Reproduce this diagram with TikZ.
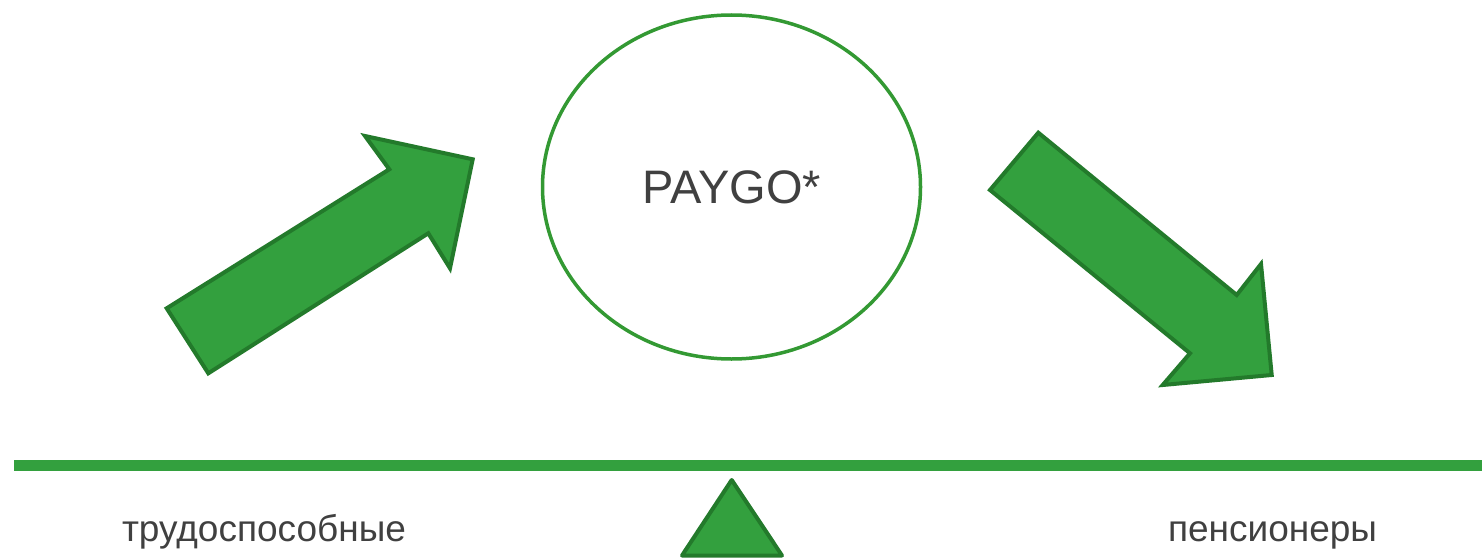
\documentclass[tikz,border=0pt]{standalone}
\usepackage{fontspec}
\setmainfont{Liberation Sans}
\usetikzlibrary{shapes.geometric}
\definecolor{gfill}{RGB}{51,160,62}
\definecolor{gline}{RGB}{35,122,43}
\definecolor{ering}{RGB}{51,153,51}
\definecolor{txt}{RGB}{64,64,64}
\tikzset{
  bigarrow/.style={fill=gfill, draw=gline, line width=4pt, line join=miter},
  lbl/.style={text=txt, font=\fontsize{37}{42}\selectfont, anchor=base, inner sep=0pt},
}
\begin{document}
\begin{tikzpicture}[x=1pt,y=-1pt]
\useasboundingbox (0,0) rectangle (1482,559);
% central ellipse
\node[ellipse, draw=ering, line width=3.5pt, minimum width=378pt, minimum height=344pt, inner sep=0pt] (pay) at (731.5,187) {};
\node[text=txt, font=\fontsize{47}{54}\selectfont, inner sep=0pt] (paytxt) at (732,187) {PAYGO*};
% left arrow
\draw[bigarrow] (166.7,308.3) -- (389.3,169.3) -- (365,136) -- (472.7,159.3) -- (450,268.3) -- (428.3,233.3) -- (208.3,373.3) -- cycle;
% right arrow
\draw[bigarrow] (990,190) -- (1038.3,132.7) -- (1236.7,295) -- (1261,264) -- (1271.7,375) -- (1162.7,385) -- (1190,353.3) -- cycle;
% beam
\coordinate (bl) at (14,465.5);
\coordinate (br) at (1482,465.5);
\draw[gfill, line width=11pt] (bl) -- (br);
% fulcrum
\draw[bigarrow, line join=round] (731.7,480) -- (782,555.5) -- (682,555.5) -- cycle;
% labels
\node[lbl] (work) at (264,541.5) {трудоспособные};
\node[lbl] (pens) at (1272.5,541.5) {пенсионеры};
\end{tikzpicture}
\end{document}
